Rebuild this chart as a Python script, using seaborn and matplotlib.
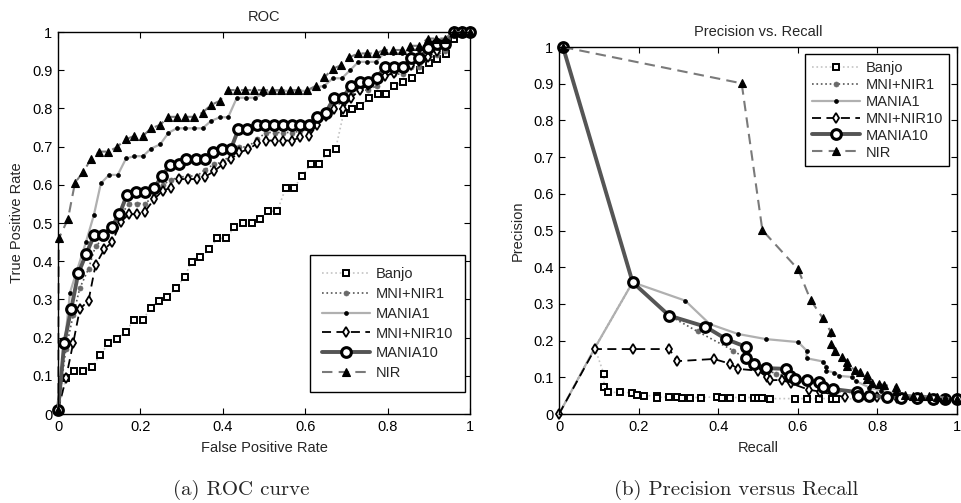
import matplotlib
matplotlib.use("Agg")
import matplotlib.pyplot as plt
import seaborn as sns

# ---- ROC curves (false positive rate, true positive rate) ----
banjo_fpr = [0, 0.019, 0.039, 0.061, 0.082, 0.102, 0.122, 0.142, 0.164, 0.184,
             0.205, 0.225, 0.245, 0.265, 0.286, 0.307, 0.324, 0.345, 0.367, 0.387,
             0.408, 0.428, 0.448, 0.470, 0.490, 0.510, 0.532, 0.553, 0.573, 0.593,
             0.613, 0.633, 0.654, 0.674, 0.693, 0.713, 0.733, 0.755, 0.776, 0.796,
             0.816, 0.837, 0.858, 0.879, 0.901, 0.921, 0.942, 0.961, 0.980, 1.0]
banjo_tpr = [0.01, 0.093, 0.113, 0.113, 0.122, 0.154, 0.185, 0.196, 0.215, 0.246,
             0.246, 0.277, 0.297, 0.307, 0.329, 0.359, 0.399, 0.41, 0.431, 0.46,
             0.46, 0.49, 0.501, 0.501, 0.511, 0.531, 0.531, 0.593, 0.593, 0.623,
             0.654, 0.654, 0.684, 0.695, 0.787, 0.798, 0.806, 0.828, 0.838, 0.838,
             0.859, 0.870, 0.880, 0.90, 0.920, 0.929, 0.942, 0.981, 1.0, 1.0]

mninir1_fpr = [0, 0.019, 0.037, 0.053, 0.074, 0.091, 0.112, 0.132, 0.152, 0.172,
               0.191, 0.211, 0.233, 0.254, 0.274, 0.294, 0.316, 0.337, 0.357, 0.379,
               0.400, 0.420, 0.440, 0.462, 0.484, 0.505, 0.527, 0.547, 0.568, 0.587,
               0.610, 0.629, 0.650, 0.670, 0.691, 0.711, 0.733, 0.752, 0.773, 0.794,
               0.816, 0.837, 0.857, 0.877, 0.899, 0.919, 0.939, 0.960, 0.980, 1.0]
mninir1_tpr = [0.01, 0.17, 0.26, 0.33, 0.38, 0.44, 0.46, 0.48, 0.52, 0.551,
               0.551, 0.551, 0.57, 0.60, 0.613, 0.62, 0.623, 0.623, 0.64, 0.654,
               0.66, 0.68, 0.698, 0.70, 0.72, 0.737, 0.737, 0.737, 0.737, 0.74,
               0.745, 0.77, 0.79, 0.80, 0.82, 0.835, 0.848, 0.848, 0.859, 0.89,
               0.89, 0.89, 0.909, 0.909, 0.931, 0.94, 0.951, 1.0, 1.0, 1.0]

mania1_fpr = [0, 0.029, 0.068, 0.087, 0.104, 0.124, 0.145, 0.165, 0.185, 0.206,
              0.226, 0.248, 0.268, 0.288, 0.308, 0.330, 0.351, 0.371, 0.393, 0.413,
              0.434, 0.456, 0.478, 0.498, 0.520, 0.541, 0.562, 0.583, 0.604, 0.625,
              0.646, 0.667, 0.689, 0.709, 0.729, 0.750, 0.771, 0.791, 0.814, 0.834,
              0.854, 0.877, 0.897, 0.917, 0.939, 0.960, 0.980, 1.0]
mania1_tpr = [0.01, 0.318, 0.451, 0.521, 0.604, 0.626, 0.626, 0.669, 0.675, 0.675,
              0.695, 0.706, 0.736, 0.748, 0.748, 0.748, 0.748, 0.767, 0.777, 0.777,
              0.828, 0.828, 0.828, 0.839, 0.846, 0.846, 0.846, 0.846, 0.846, 0.855,
              0.859, 0.879, 0.879, 0.90, 0.922, 0.922, 0.922, 0.944, 0.944, 0.944,
              0.954, 0.954, 0.97, 0.97, 0.98, 1.0, 1.0, 1.0]

mninir10_fpr = [0, 0.019, 0.037, 0.053, 0.074, 0.091, 0.112, 0.132, 0.152, 0.172,
                0.191, 0.211, 0.233, 0.254, 0.274, 0.294, 0.316, 0.337, 0.357, 0.379,
                0.400, 0.420, 0.440, 0.462, 0.484, 0.505, 0.527, 0.547, 0.568, 0.587,
                0.610, 0.629, 0.650, 0.670, 0.691, 0.711, 0.733, 0.752, 0.773, 0.794,
                0.816, 0.837, 0.857, 0.877, 0.899, 0.919, 0.939, 0.960, 0.980, 1.0]
mninir10_tpr = [0.01, 0.093, 0.187, 0.275, 0.297, 0.39, 0.431, 0.451, 0.503, 0.523,
                0.523, 0.530, 0.562, 0.585, 0.592, 0.615, 0.615, 0.615, 0.621, 0.636,
                0.654, 0.668, 0.685, 0.693, 0.709, 0.716, 0.716, 0.716, 0.716, 0.724,
                0.728, 0.757, 0.780, 0.798, 0.799, 0.828, 0.848, 0.862, 0.875, 0.885,
                0.893, 0.905, 0.915, 0.925, 0.935, 0.95, 0.965, 1.0, 1.0, 1.0]

mania10_fpr = [0, 0.015, 0.032, 0.049, 0.068, 0.088, 0.110, 0.130, 0.149, 0.167,
               0.189, 0.211, 0.233, 0.252, 0.272, 0.294, 0.311, 0.334, 0.357, 0.377,
               0.398, 0.420, 0.438, 0.459, 0.482, 0.502, 0.524, 0.545, 0.567, 0.587,
               0.609, 0.628, 0.650, 0.670, 0.691, 0.711, 0.733, 0.752, 0.773, 0.794,
               0.816, 0.837, 0.857, 0.877, 0.899, 0.919, 0.939, 0.960, 0.980, 1.0]
mania10_tpr = [0.01, 0.185, 0.275, 0.368, 0.418, 0.469, 0.469, 0.490, 0.523, 0.573,
               0.582, 0.582, 0.591, 0.623, 0.652, 0.654, 0.667, 0.667, 0.667, 0.687,
               0.695, 0.695, 0.746, 0.746, 0.757, 0.757, 0.757, 0.757, 0.757, 0.757,
               0.757, 0.777, 0.789, 0.828, 0.828, 0.859, 0.870, 0.870, 0.880, 0.909,
               0.909, 0.909, 0.931, 0.931, 0.959, 0.970, 0.970, 1.0, 1.0, 1.0]

nir_fpr = [0, 0.002, 0.024, 0.041, 0.061, 0.080, 0.100, 0.122, 0.142, 0.164,
           0.185, 0.206, 0.226, 0.248, 0.268, 0.288, 0.308, 0.330, 0.351, 0.371,
           0.393, 0.413, 0.434, 0.455, 0.476, 0.498, 0.519, 0.541, 0.563, 0.583,
           0.605, 0.626, 0.646, 0.667, 0.687, 0.707, 0.729, 0.750, 0.771, 0.791,
           0.814, 0.834, 0.854, 0.877, 0.897, 0.917, 0.939, 0.960, 0.980, 1.0]
nir_tpr = [0.01, 0.46, 0.51, 0.605, 0.634, 0.667, 0.687, 0.687, 0.698, 0.719,
           0.728, 0.728, 0.748, 0.757, 0.778, 0.778, 0.778, 0.778, 0.789, 0.809,
           0.820, 0.848, 0.848, 0.848, 0.848, 0.848, 0.848, 0.848, 0.848, 0.848,
           0.848, 0.859, 0.881, 0.904, 0.913, 0.934, 0.944, 0.944, 0.944, 0.953,
           0.953, 0.953, 0.964, 0.964, 0.983, 0.983, 0.983, 1.0, 1.0, 1.0]

# ---- Precision / recall curves ----
banjo_rec = [0, 0.09, 0.113, 0.113, 0.124, 0.154, 0.184, 0.195, 0.214, 0.246,
             0.246, 0.277, 0.297, 0.308, 0.328, 0.358, 0.398, 0.409, 0.430, 0.461,
             0.490, 0.501, 0.511, 0.531, 0.593, 0.622, 0.654, 0.685, 0.696, 0.75,
             0.80, 0.85, 0.90, 0.95, 1.0]
banjo_prec = [0, 0.18, 0.108, 0.073, 0.059, 0.059, 0.058, 0.053, 0.050, 0.050,
              0.045, 0.047, 0.047, 0.045, 0.045, 0.045, 0.047, 0.045, 0.045, 0.045,
              0.045, 0.043, 0.043, 0.042, 0.042, 0.042, 0.042, 0.042, 0.042, 0.041,
              0.041, 0.041, 0.040, 0.040, 0.040]

mninir1_rec = [0, 0.09, 0.185, 0.277, 0.348, 0.438, 0.47, 0.50, 0.545, 0.58,
               0.62, 0.66, 0.70, 0.75, 0.80, 0.85, 0.90, 0.95, 1.0]
mninir1_prec = [0, 0.18, 0.359, 0.268, 0.225, 0.173, 0.150, 0.128, 0.110, 0.100,
                0.085, 0.075, 0.065, 0.055, 0.050, 0.046, 0.043, 0.041, 0.040]

mania1_rec = [0, 0.09, 0.185, 0.317, 0.379, 0.450, 0.521, 0.601, 0.622, 0.622,
              0.664, 0.672, 0.672, 0.692, 0.704, 0.735, 0.746, 0.78, 0.81, 0.85,
              0.90, 0.95, 1.0]
mania1_prec = [0, 0.18, 0.359, 0.309, 0.245, 0.218, 0.204, 0.196, 0.173, 0.152,
               0.143, 0.128, 0.118, 0.113, 0.104, 0.101, 0.090, 0.072, 0.064, 0.055,
               0.048, 0.043, 0.040]

mninir10_rec = [0, 0.09, 0.185, 0.277, 0.297, 0.389, 0.430, 0.450, 0.501, 0.522,
                0.531, 0.560, 0.582, 0.628, 0.656, 0.719, 0.76, 0.80, 0.85, 0.90,
                0.95, 1.0]
mninir10_prec = [0, 0.177, 0.177, 0.177, 0.144, 0.150, 0.137, 0.123, 0.118, 0.101,
                 0.092, 0.093, 0.084, 0.066, 0.061, 0.046, 0.048, 0.046, 0.044, 0.042,
                 0.041, 0.040]

mania10_rec = [0.01, 0.185, 0.277, 0.368, 0.420, 0.470, 0.470, 0.489, 0.521, 0.571,
               0.580, 0.593, 0.622, 0.654, 0.664, 0.688, 0.748, 0.752, 0.78, 0.825,
               0.86, 0.90, 0.94, 0.97, 1.0]
mania10_prec = [1.0, 0.359, 0.268, 0.238, 0.204, 0.183, 0.152, 0.136, 0.125, 0.123,
                0.104, 0.095, 0.092, 0.086, 0.074, 0.068, 0.060, 0.050, 0.050, 0.046,
                0.045, 0.043, 0.042, 0.041, 0.040]

nir_rec = [0.01, 0.459, 0.511, 0.601, 0.632, 0.663, 0.683, 0.683, 0.693, 0.712,
           0.723, 0.723, 0.744, 0.756, 0.775, 0.775, 0.787, 0.805, 0.817, 0.846,
           0.846, 0.869, 0.89, 0.91, 0.93, 0.95, 0.97, 1.0]
nir_prec = [1.0, 0.901, 0.501, 0.394, 0.311, 0.261, 0.224, 0.192, 0.171, 0.156,
            0.142, 0.132, 0.121, 0.114, 0.107, 0.095, 0.085, 0.082, 0.079, 0.074,
            0.062, 0.052, 0.05, 0.05, 0.048, 0.047, 0.045, 0.040]

names = ["Banjo", "MNI+NIR1", "MANIA1", "MNI+NIR10", "MANIA10", "NIR"]
roc_data = [(banjo_fpr, banjo_tpr), (mninir1_fpr, mninir1_tpr), (mania1_fpr, mania1_tpr),
            (mninir10_fpr, mninir10_tpr), (mania10_fpr, mania10_tpr), (nir_fpr, nir_tpr)]
pr_data = [(banjo_rec, banjo_prec), (mninir1_rec, mninir1_prec), (mania1_rec, mania1_prec),
           (mninir10_rec, mninir10_prec), (mania10_rec, mania10_prec), (nir_rec, nir_prec)]

ticks_x = [0, 0.2, 0.4, 0.6, 0.8, 1]
ticklabels_x = ["0", "0.2", "0.4", "0.6", "0.8", "1"]
ticks_y = [0, 0.1, 0.2, 0.3, 0.4, 0.5, 0.6, 0.7, 0.8, 0.9, 1]
ticklabels_y = ["0", "0.1", "0.2", "0.3", "0.4", "0.5", "0.6", "0.7", "0.8", "0.9", "1"]

# line styles, same order as names
styles = [
    dict(color="#c4c4c4", linestyle=":", linewidth=1.2, marker="s", markersize=4.5,
         markerfacecolor="white", markeredgecolor="black", markeredgewidth=1.4),
    dict(color="#555555", linestyle=":", linewidth=1.2, marker="o", markersize=3.6,
         markerfacecolor="#6a6a6a", markeredgecolor="#6a6a6a", markeredgewidth=0.5),
    dict(color="#b0b0b0", linestyle="-", linewidth=1.6, marker="o", markersize=2.8,
         markerfacecolor="black", markeredgecolor="black", markeredgewidth=0.5),
    dict(color="black", linestyle=(0, (5, 3)), linewidth=1.3, marker="d", markersize=5.5,
         markerfacecolor="white", markeredgecolor="black", markeredgewidth=1.3),
    dict(color="#555555", linestyle="-", linewidth=2.8, marker="o", markersize=7,
         markerfacecolor="white", markeredgecolor="black", markeredgewidth=2.2),
    dict(color="#7a7a7a", linestyle=(0, (5, 3)), linewidth=1.5, marker="^", markersize=6,
         markerfacecolor="black", markeredgecolor="black", markeredgewidth=0.8),
]

sns.set_style("ticks")
plt.rcParams["font.family"] = ["Liberation Sans", "DejaVu Sans"]

fig = plt.figure(figsize=(9.61, 5.03), dpi=100)
ax_roc = fig.add_axes([0.0604, 0.1769, 0.4287, 0.7594])
ax_pr = fig.add_axes([0.5817, 0.1769, 0.4141, 0.7296])

for name, (x, y), st in zip(names, roc_data, styles):
    sns.lineplot(x=x, y=y, ax=ax_roc, sort=False, estimator=None, label=name,
                 clip_on=False, **st)

for name, (x, y), st in zip(names, pr_data, styles):
    extra = {}
    if name == "Banjo":
        extra["markevery"] = list(range(2, 29))
    sns.lineplot(x=x, y=y, ax=ax_pr, sort=False, estimator=None, label=name,
                 clip_on=False, **st, **extra)

for ax in (ax_roc, ax_pr):
    ax.set_xlim(0, 1)
    ax.set_ylim(0, 1)
    ax.set_xticks(ticks_x)
    ax.set_xticklabels(ticklabels_x)
    ax.set_yticks(ticks_y)
    ax.set_yticklabels(ticklabels_y)
    ax.tick_params(direction="in", top=True, right=True, length=4, width=0.8,
                   labelsize=10.5, colors="black", pad=4)
    for sp in ax.spines.values():
        sp.set_color("black")
        sp.set_linewidth(1.0)

ax_roc.set_title("ROC", fontsize=10.5, pad=8)
ax_roc.set_xlabel("False Positive Rate", fontsize=10.5, labelpad=5)
ax_roc.set_ylabel("True Positive Rate", fontsize=10.5, labelpad=6)
ax_pr.set_title("Precision vs. Recall", fontsize=10.5, pad=8)
ax_pr.set_xlabel("Recall", fontsize=10.5, labelpad=5)
ax_pr.set_ylabel("Precision", fontsize=10.5, labelpad=6)

leg_kw = dict(frameon=True, fancybox=False, framealpha=1, edgecolor="black",
              fontsize=10.5, handlelength=3.3, handletextpad=0.4, borderaxespad=0)
leg1 = ax_roc.legend(loc="lower right", bbox_to_anchor=(0.988, 0.058),
                     labelspacing=0.4, borderpad=0.8, **leg_kw)
leg2 = ax_pr.legend(loc="upper right", bbox_to_anchor=(0.981, 0.980),
                    labelspacing=0.2, borderpad=0.45, **leg_kw)
for leg in (leg1, leg2):
    leg.get_frame().set_linewidth(1.0)

fig.text(241 / 961, 1 - 490 / 503, "(a) ROC curve", ha="center", va="center",
         family="cmr10", fontsize=15)
fig.text(736 / 961, 1 - 490 / 503, "(b) Precision versus Recall", ha="center",
         va="center", family="cmr10", fontsize=15)

fig.savefig("out.png", dpi=100)
